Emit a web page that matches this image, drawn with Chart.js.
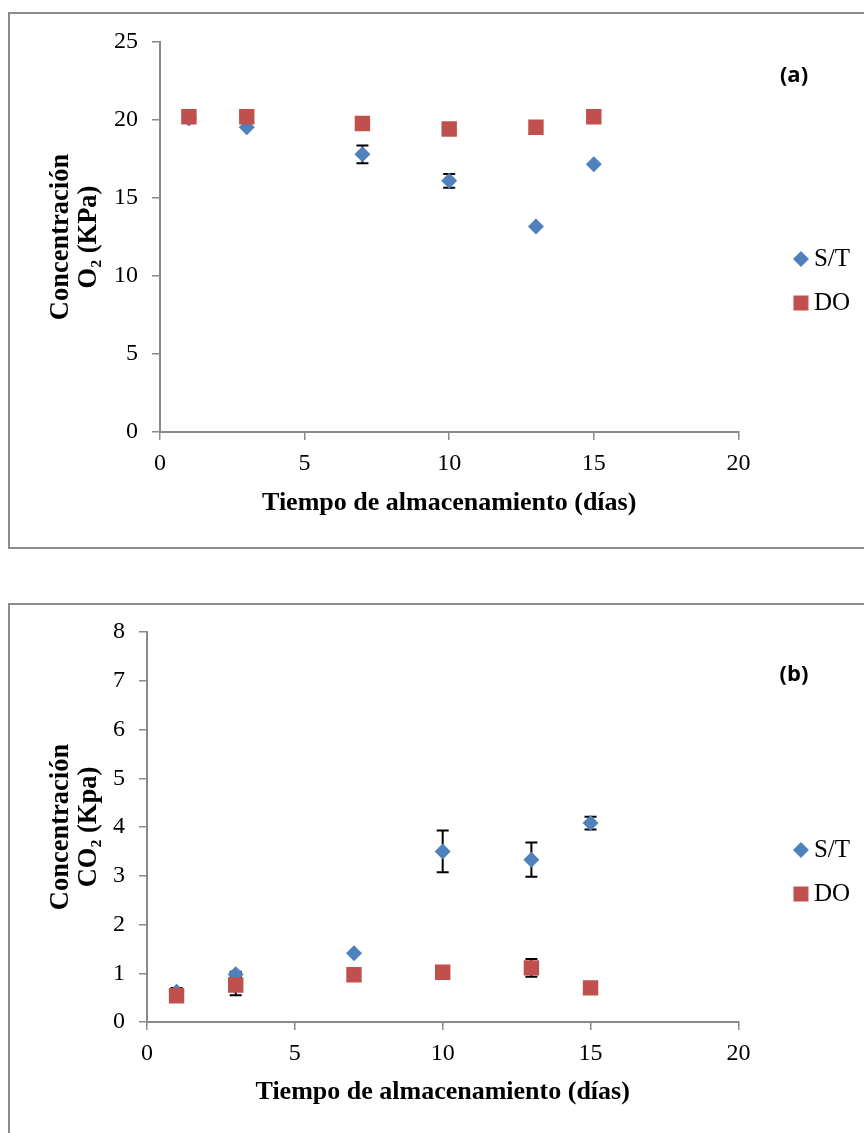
<!DOCTYPE html>
<html lang="es">
<head>
    <meta charset="UTF-8">
    <title>Concentración de O2 y CO2</title>
    <script src="https://cdn.jsdelivr.net/npm/chart.js"></script>
    <style>
        body {
            margin: 0;
            width: 864px;
            height: 1133px;
            overflow: hidden;
            position: relative;
            background: #fff;
        }
        .marco {
            position: absolute;
            left: 8px;
            width: 900px;
            border: 2px solid #8c8c8c;
            box-sizing: border-box;
        }
        canvas {
            position: absolute;
            left: 0;
        }
        .etiqueta {
            position: absolute;
            left: 764px;
            width: 60px;
            text-align: center;
            font-family: "Open Sans", sans-serif;
            font-weight: bold;
            font-size: 22px;
            line-height: 30px;
            color: #000;
        }
    </style>
</head>
<body>

<div class="marco" style="top: 12px; height: 537px;"></div>
<div class="marco" style="top: 603px; height: 600px;"></div>

<canvas id="graf-o2" width="864" height="549" style="top: 0px;"></canvas>
<canvas id="graf-co2" width="864" height="543" style="top: 590px;"></canvas>

<div class="etiqueta" style="top: 58px;">(a)</div>
<div class="etiqueta" style="top: 657px;">(b)</div>

<script>
    // Datos
    const dias = [1, 3, 7, 10, 13, 15];
    const seriesNombres = ['S/T', 'DO'];

    const o2ST = [20.1, 19.53, 17.8, 16.1, 13.17, 17.16];
    const o2DO = [20.21, 20.21, 19.78, 19.42, 19.53, 20.21];
    const o2STerr = [0, 0, 0.57, 0.44, 0, 0];
    const o2DOerr = [0, 0, 0, 0, 0, 0];

    const co2ST = [0.62, 0.98, 1.41, 3.50, 3.33, 4.08];
    const co2DO = [0.54, 0.76, 0.97, 1.02, 1.11, 0.70];
    const co2STerr = [0.08, 0.05, 0, 0.43, 0.35, 0.13];
    const co2DOerr = [0, 0.21, 0, 0, 0.18, 0];

    const xTicks = [0, 5, 10, 15, 20];
    const o2Ticks = [0, 5, 10, 15, 20, 25];
    const co2Ticks = [0, 1, 2, 3, 4, 5, 6, 7, 8];

    const gris = '#898989';
    const azul = '#4F81BD';
    const rojo = '#C0504D';
    const serif = '"Liberation Serif", "Times New Roman", serif';

    // Barras de error dibujadas con la escala y
    const barrasError = {
        id: 'barrasError',
        beforeDatasetsDraw(chart) {
            const ctx = chart.ctx;
            const escalaY = chart.scales.y;
            chart.data.datasets.forEach((ds, i) => {
                const meta = chart.getDatasetMeta(i);
                ds.errores.forEach((e, j) => {
                    if (!e) return;
                    const x = meta.data[j].x;
                    const arriba = escalaY.getPixelForValue(ds.data[j].y + e);
                    const abajo = escalaY.getPixelForValue(ds.data[j].y - e);
                    ctx.save();
                    ctx.strokeStyle = '#000';
                    ctx.lineWidth = 2;
                    ctx.beginPath();
                    ctx.moveTo(x, arriba);
                    ctx.lineTo(x, abajo);
                    ctx.moveTo(x - 6, arriba);
                    ctx.lineTo(x + 6, arriba);
                    ctx.moveTo(x - 6, abajo);
                    ctx.lineTo(x + 6, abajo);
                    ctx.stroke();
                    ctx.restore();
                });
            });
        }
    };

    // Icono de la leyenda con el mismo tamaño que los marcadores
    function icono(estilo, radio, color) {
        const c = document.createElement('canvas');
        c.width = 20;
        c.height = 20;
        const g = c.getContext('2d');
        g.fillStyle = color;
        Chart.helpers.drawPoint(g, { pointStyle: estilo, radius: radio, borderWidth: 0 }, 10, 10);
        return c;
    }

    function puntos(valores) {
        return dias.map((d, i) => ({ x: d, y: valores[i] }));
    }

    function crearGrafico(id, st, stErr, doVals, doErr, ticksY, tituloY, anchoY, altoX, padAbajo, padTitulo) {
        const ctx = document.getElementById(id).getContext('2d');
        const iconos = [icono('rectRot', 8, azul), icono('rect', 10.6, rojo)];
        return new Chart(ctx, {
            type: 'scatter',
            data: {
                datasets: [{
                    label: seriesNombres[0],
                    data: puntos(st),
                    errores: stErr,
                    order: 1,
                    pointStyle: 'rectRot',
                    pointRadius: 8,
                    pointBorderWidth: 0,
                    borderWidth: 0,
                    backgroundColor: azul,
                    borderColor: azul
                }, {
                    label: seriesNombres[1],
                    data: puntos(doVals),
                    errores: doErr,
                    order: 0,
                    pointStyle: 'rect',
                    pointRadius: 10.9,
                    pointBorderWidth: 0,
                    borderWidth: 0,
                    backgroundColor: rojo,
                    borderColor: rojo
                }]
            },
            options: {
                responsive: false,
                animation: false,
                events: [],
                layout: {
                    padding: { top: 42, bottom: padAbajo, left: 0, right: 4 }
                },
                plugins: {
                    tooltip: { enabled: false },
                    legend: {
                        position: 'right',
                        labels: {
                            usePointStyle: true,
                            boxWidth: 1,
                            padding: 19,
                            color: '#000',
                            font: { family: serif, size: 25 },
                            generateLabels: (chart) => Chart.defaults.plugins.legend.labels
                                .generateLabels(chart)
                                .map(item => Object.assign(item, { pointStyle: iconos[item.datasetIndex] })),
                            sort: (a, b) => a.datasetIndex - b.datasetIndex
                        }
                    }
                },
                scales: {
                    x: {
                        type: 'linear',
                        min: 0,
                        max: 20,
                        afterBuildTicks: (s) => { s.ticks = xTicks.map(v => ({ value: v })); },
                        afterFit: (s) => { s.height = altoX; },
                        grid: { drawOnChartArea: false, color: gris, lineWidth: 1.5, tickLength: 8 },
                        border: { color: gris, width: 2 },
                        ticks: { color: '#000', padding: 9, font: { family: serif, size: 24 } },
                        title: {
                            display: true,
                            text: 'Tiempo de almacenamiento (días)',
                            color: '#000',
                            font: { family: serif, size: 26, weight: 'bold' },
                            padding: { top: 0, bottom: padTitulo }
                        }
                    },
                    y: {
                        type: 'linear',
                        min: ticksY[0],
                        max: ticksY[ticksY.length - 1],
                        afterBuildTicks: (s) => { s.ticks = ticksY.map(v => ({ value: v })); },
                        afterFit: (s) => { s.width = anchoY; },
                        grid: { drawOnChartArea: false, color: gris, lineWidth: 1.5, tickLength: 8 },
                        border: { color: gris, width: 2 },
                        ticks: { color: '#000', padding: 14, font: { family: serif, size: 24 } },
                        title: {
                            display: true,
                            text: tituloY,
                            color: '#000',
                            font: { family: serif, size: 26.5, weight: 'bold', lineHeight: 1.06 },
                            padding: { top: 47, bottom: 0 }
                        }
                    },
                    // espacio vacío entre el área del gráfico y la leyenda
                    espacio: {
                        axis: 'y',
                        type: 'linear',
                        position: 'right',
                        grid: { display: false },
                        border: { display: false },
                        ticks: { display: false },
                        afterFit: (s) => { s.width = 43; }
                    }
                }
            },
            plugins: [barrasError]
        });
    }

    crearGrafico('graf-o2', o2ST, o2STerr, o2DO, o2DOerr, o2Ticks,
        ['Concentración', 'O\u2082 (KPa)'], 160, 88, 29, 1);
    crearGrafico('graf-co2', co2ST, co2STerr, co2DO, co2DOerr, co2Ticks,
        ['Concentración', 'CO\u2082 (Kpa)'], 147, 90, 21, 4);
</script>

</body>
</html>
